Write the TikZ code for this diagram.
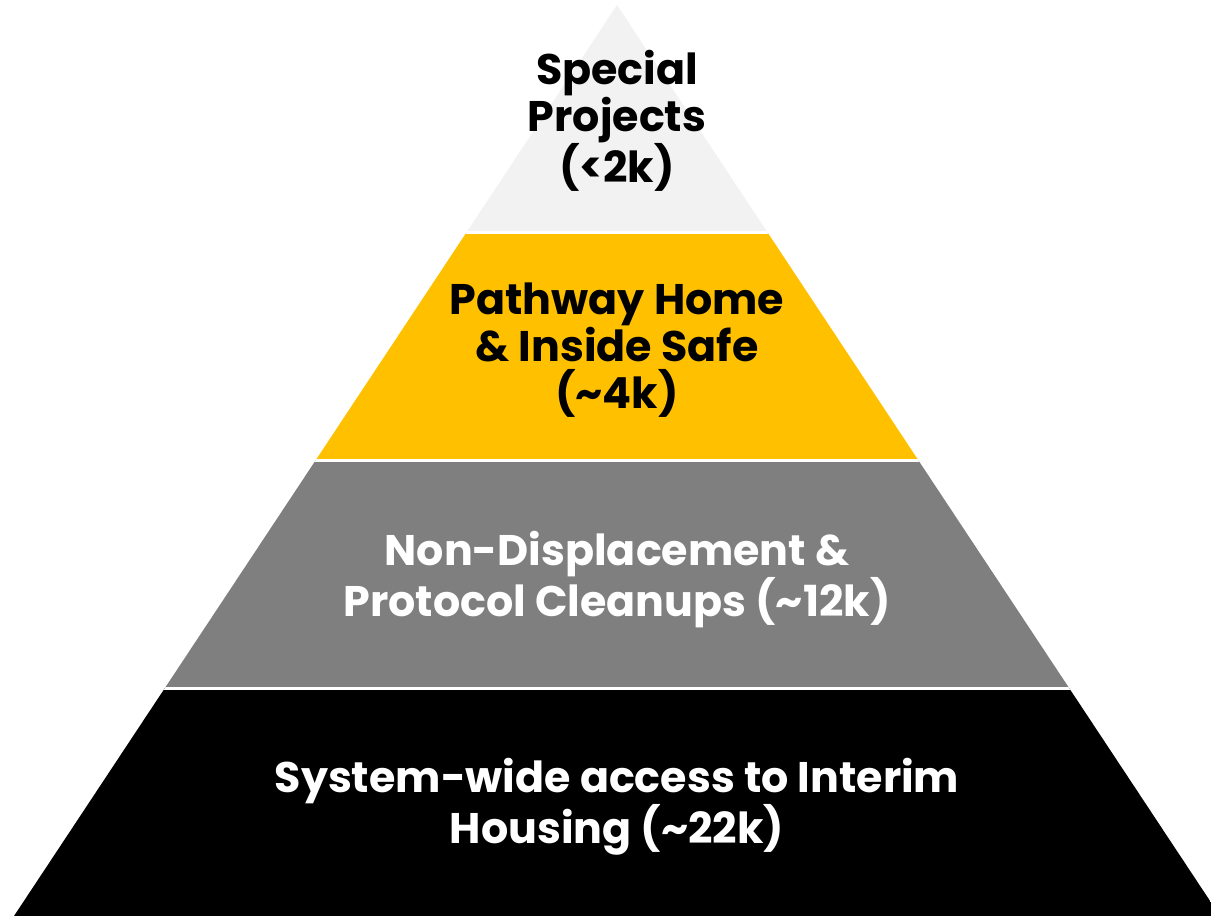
\documentclass[tikz,border=0pt]{standalone}
\usepackage{fontspec}
\setmainfont{Poppins}
\definecolor{tiertop}{HTML}{F2F2F2}
\definecolor{tieryellow}{HTML}{FFC000}
\definecolor{tiergray}{HTML}{7F7F7F}
\begin{document}
\begin{tikzpicture}[x=1pt,y=-1pt,
  label/.style={align=center,font=\bfseries\fontsize{42.8}{47}\selectfont,inner sep=0pt},
  sep/.style={white,line width=3pt}]
\useasboundingbox (0,0) rectangle (1211,916);
\begin{scope}
  \clip (617,5) -- (14,916) -- (1220,916) -- cycle;
  \fill[tiertop] (0,0) rectangle (1211,232);
  \fill[tieryellow] (0,232) rectangle (1211,460);
  \fill[tiergray] (0,460) rectangle (1211,688);
  \fill[black] (0,688) rectangle (1211,920);
  \draw[sep] (0,232) -- (1211,232);
  \draw[sep] (0,460) -- (1211,460);
  \draw[sep] (0,688) -- (1211,688);
\end{scope}
\node[label,text=black] (t1) at (617,121) {Special\\Projects\\(<2k)};
\node[label,text=black] (t2) at (617,350) {Pathway Home\\\& Inside Safe\\(\textasciitilde4k)};
\node[label,text=white] (t3) at (617,579.5) {Non-Displacement \&\\Protocol Cleanups (\textasciitilde12k)};
\node[label,text=white] (t4) at (617,806.5) {System-wide access to Interim\\Housing (\textasciitilde22k)};
\end{tikzpicture}
\end{document}
